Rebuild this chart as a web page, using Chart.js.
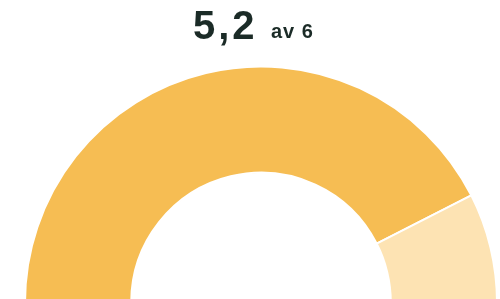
<!DOCTYPE html>
<html>
<head>
<meta charset="utf-8">
<script src="https://cdn.jsdelivr.net/npm/chart.js@4"></script>
<style>
  html, body { margin: 0; padding: 0; background: #fff; }
  #wrap { position: relative; width: 500px; height: 299px; overflow: hidden; }
  .txt {
    position: absolute; white-space: nowrap;
    font-family: "Liberation Sans", Arial, sans-serif; font-weight: bold; color: #1b2b27;
  }
  #val { left: 193px; top: 5px; font-size: 40px; line-height: 40px; letter-spacing: 3px; }
  #of { left: 271px; top: 21px; font-size: 20px; line-height: 20px; letter-spacing: 1px; }
  #box { position: absolute; top: 0; left: 0; width: 500px; height: 304px; }
</style>
</head>
<body>
<div id="wrap">
  <div id="box"><canvas id="myChart"></canvas></div>
  <span class="txt" id="val"></span>
  <span class="txt" id="of"></span>
</div>
<script>
// headline score and scale max
const score = 5.2;
const maxScore = 6;
// arc segments as drawn (filled / remaining)
const labels = ['Betyg', 'Kvar'];
const values = [5.1, 0.9];
const colors = ['#F6BD53', '#FDE3B3'];

document.getElementById('val').textContent = score.toString().replace('.', ',');
document.getElementById('of').textContent = 'av ' + maxScore;

const buildChart = () => {
    const ctx = document.getElementById('myChart');
    return new Chart(ctx, {
        type: 'doughnut',
        data: {
            labels: labels,
            datasets: [{
                data: values,
                backgroundColor: colors,
                borderColor: '#ffffff',
                borderWidth: 2,
            }]
        },
        options: {
            responsive: true,
            maintainAspectRatio: false,
            animation: false,
            rotation: -90,
            circumference: 180,
            cutout: '55%',
            layout: {
                padding: { left: 24, right: 2, top: 65, bottom: 0 }
            },
            plugins: {
                legend: { display: false },
                tooltip: { enabled: false },
            }
        }
    });
}

buildChart();
</script>
</body>
</html>
